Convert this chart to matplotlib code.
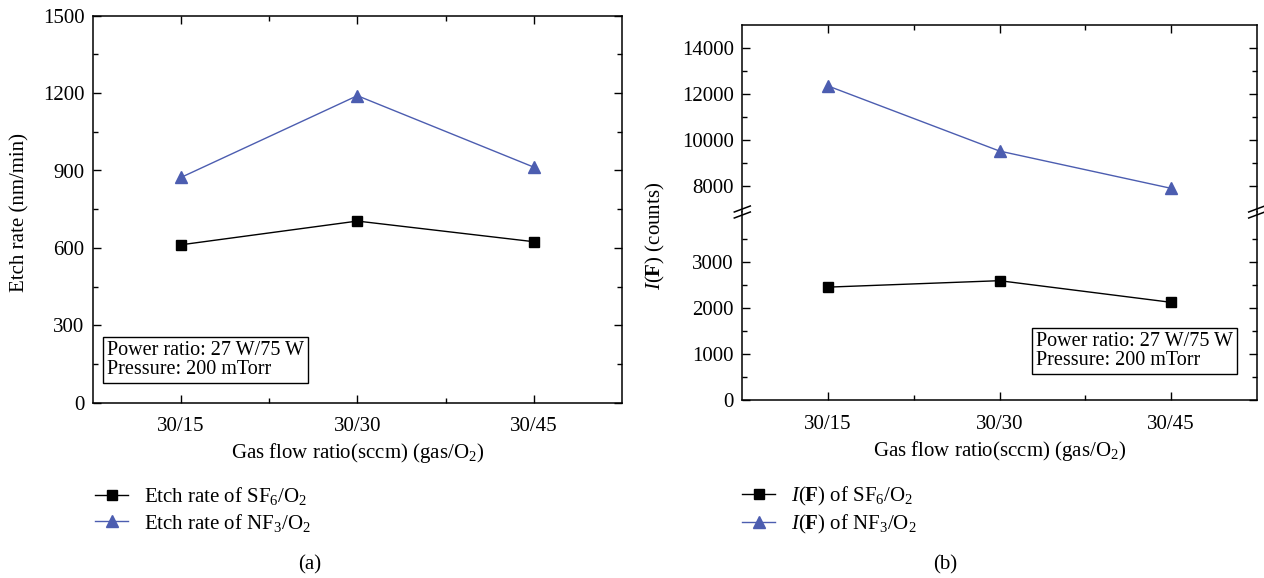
import matplotlib
matplotlib.use("Agg")
import matplotlib.pyplot as plt
from matplotlib.ticker import MultipleLocator, FixedLocator

plt.rcParams['font.family'] = ['Liberation Serif', 'DejaVu Serif']
plt.rcParams['mathtext.fontset'] = 'custom'
plt.rcParams['mathtext.rm'] = 'Liberation Serif'
plt.rcParams['mathtext.it'] = 'Liberation Serif:italic'
plt.rcParams['mathtext.bf'] = 'Liberation Serif:bold'

categories = ['30/15', '30/30', '30/45']
etch_sf6 = [612, 704, 624]
etch_nf3 = [873, 1190, 913]
intensity_sf6 = [2460, 2600, 2130]
intensity_nf3 = [12350, 9520, 7900]

BLUE = '#4C5DB0'
FS = 15
W, H = 1264, 578
fig = plt.figure(figsize=(W/100, H/100), dpi=100)

def rect(x0, y0, x1, y1):
    return [x0/W, 1 - y1/H, (x1-x0)/W, (y1-y0)/H]

xs = list(range(1, len(categories)+1))

def style_x(ax, labels=True):
    ax.set_xlim(0.5, 3.5)
    ax.xaxis.set_major_locator(FixedLocator(xs))
    ax.xaxis.set_minor_locator(FixedLocator([1.5, 2.5]))
    if labels:
        ax.set_xticklabels(categories)
    ax.tick_params(which='both', direction='in', top=True, right=True, labelsize=FS)
    ax.tick_params(which='major', length=6, width=1, pad=6)
    ax.tick_params(axis='x', which='major', pad=10.3)
    ax.tick_params(which='minor', length=3.5, width=1)
    for s in ax.spines.values():
        s.set_linewidth(1.1)

# ---- (a)
ax1 = fig.add_axes(rect(92.7, 15.7, 622, 402.7))
ax1.plot(xs, etch_sf6, '-s', color='black', lw=1, ms=7, label=r'Etch rate of SF$_6$/O$_2$')
ax1.plot(xs, etch_nf3, '-^', color=BLUE, lw=1, ms=8, label=r'Etch rate of NF$_3$/O$_2$')
ax1.set_ylim(0, 1500)
ax1.yaxis.set_major_locator(MultipleLocator(300))
ax1.yaxis.set_minor_locator(MultipleLocator(150))
style_x(ax1)
ax1.set_xlabel(r'Gas flow ratio(sccm) (gas/O$_2$)', fontsize=FS, labelpad=3.7)
fig.text(20/W, 1 - 212/H, 'Etch rate (nm/min)', rotation=90, fontsize=FS,
         ha='center', va='center')
ax1.text(0.027, 0.062, 'Power ratio: 27 W/75 W\nPressure: 200 mTorr', transform=ax1.transAxes,
         fontsize=14.5, va='bottom', ha='left', linespacing=1.0,
         bbox=dict(boxstyle='square,pad=0.2', fc='white', ec='black', lw=1))

# ---- (b)
brk = 212
axu = fig.add_axes(rect(742.3, 25, 1256.7, brk))
axl = fig.add_axes(rect(742.3, brk, 1256.7, 400.3), sharex=axu)
for ax in (axu, axl):
    ax.plot(xs, intensity_sf6, '-s', color='black', lw=1, ms=7, label=r'$I$($\mathbf{F}$) of SF$_6$/O$_2$')
    ax.plot(xs, intensity_nf3, '-^', color=BLUE, lw=1, ms=8, label=r'$I$($\mathbf{F}$) of NF$_3$/O$_2$')
axu.set_ylim(6870, 15000)
axl.set_ylim(0, 4093)
axu.yaxis.set_major_locator(FixedLocator([8000, 10000, 12000, 14000]))
axu.yaxis.set_minor_locator(FixedLocator([9000, 11000, 13000]))
axl.yaxis.set_major_locator(FixedLocator([0, 1000, 2000, 3000]))
axl.yaxis.set_minor_locator(FixedLocator([500, 1500, 2500, 3500]))
style_x(axu, labels=False)
style_x(axl)
axu.spines['bottom'].set_visible(False)
axl.spines['top'].set_visible(False)
axu.tick_params(which='both', bottom=False, labelbottom=False)
axl.tick_params(which='both', top=False)
axl.set_xlabel(r'Gas flow ratio(sccm) (gas/O$_2$)', fontsize=FS, labelpad=3.7)
fig.text(655/W, 1 - 236/H, r'$I$($\mathbf{F}$) (counts)', rotation=90, fontsize=FS,
         ha='center', va='center')
axl.text(0.571, 0.162, 'Power ratio: 27 W/75 W\nPressure: 200 mTorr', transform=axl.transAxes,
         fontsize=14.5, va='bottom', ha='left', linespacing=1.0,
         bbox=dict(boxstyle='square,pad=0.2', fc='white', ec='black', lw=1))

# break marks
for xpx in (742.3, 1256.7):
    for dy in (-3, 3):
        x0, x1 = xpx - 8, xpx + 8
        y0, y1 = brk + dy + 3, brk + dy - 3
        fig.add_artist(plt.Line2D([x0/W, x1/W], [1 - y0/H, 1 - y1/H], color='black', lw=1.1))

# legends
h1, l1 = ax1.get_legend_handles_labels()
fig.legend(h1, l1, loc='upper left', bbox_to_anchor=(95/W, 1 - 485/H), frameon=False,
           fontsize=FS, handlelength=1.6, handletextpad=0.75, labelspacing=0.22,
           borderpad=0, borderaxespad=0)
h2, l2 = axl.get_legend_handles_labels()
fig.legend(h2, l2, loc='upper left', bbox_to_anchor=(742/W, 1 - 485/H), frameon=False,
           fontsize=FS, handlelength=1.6, handletextpad=0.75, labelspacing=0.22,
           borderpad=0, borderaxespad=0)

fig.text(310/W, 1 - 565/H, '(a)', fontsize=FS, ha='center', va='center')
fig.text(945/W, 1 - 565/H, '(b)', fontsize=FS, ha='center', va='center')

fig.savefig('out.png', dpi=100)
